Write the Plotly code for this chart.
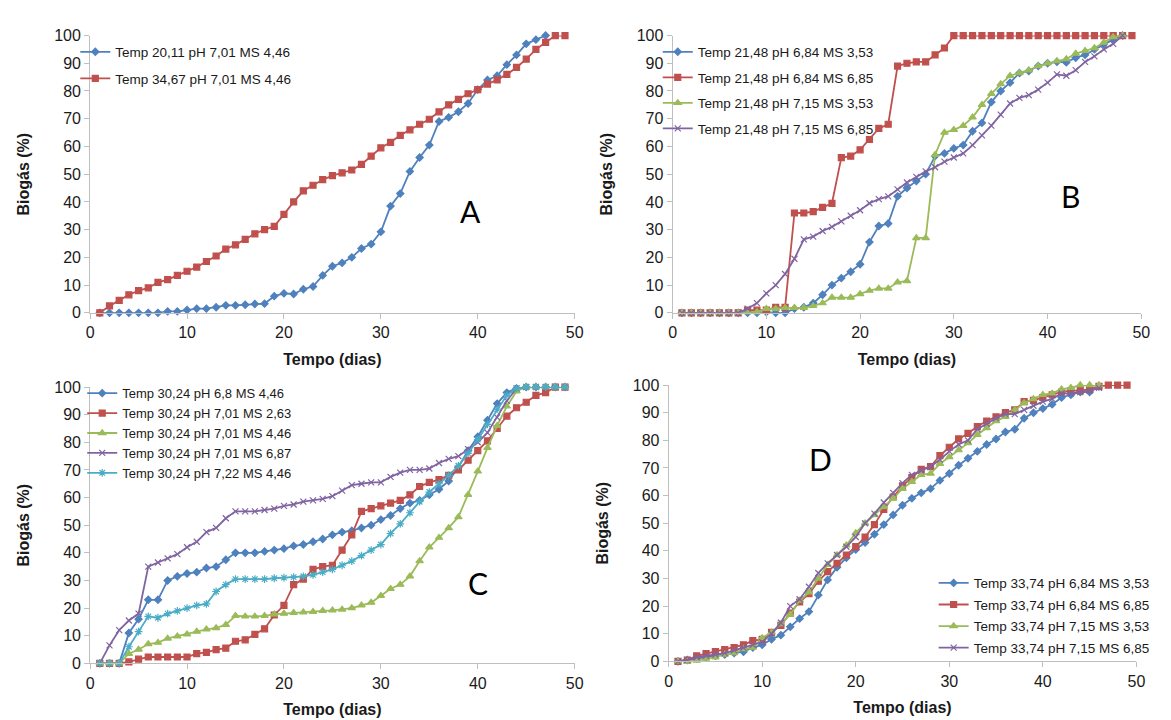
import plotly.graph_objects as go

# ---------------- data ----------------
# Panel A
a_labels = ["Temp 20,11 pH 7,01 MS 4,46", "Temp 34,67 pH 7,01 MS 4,46"]
a_s1 = [0, 0, 0, 0, 0, 0, 0, 0.5, 0.5, 1, 1.5, 1.5, 2, 2.7, 2.7, 2.9, 3.2, 3.3, 6, 7,
        6.8, 8.5, 9.5, 13.5, 16.8, 18, 20, 23.2, 24.8, 29.2, 38.5, 43, 51, 56, 60.5, 69, 70.5,
        72.5, 75.5, 80.5, 84, 85.5, 89.5, 93, 97, 98.5, 100]
a_s2 = [0, 2.5, 4.5, 6.5, 8, 9, 11, 12, 13.5, 15, 16.5, 18.5, 20.5, 23, 24.5, 26.5, 28.5,
        30, 31.2, 35.5, 40, 44, 46, 48, 49.5, 50.5, 51.5, 53.5, 56.5, 59.5, 61.5, 64, 66, 68,
        69.8, 72.5, 75, 77, 79, 80.5, 82.5, 84, 86, 88.5, 91.5, 95, 97.5, 100, 100]

# Panel B
b_labels = ["Temp 21,48 pH 6,84 MS 3,53", "Temp 21,48 pH 6,84 MS 6,85",
            "Temp 21,48 pH 7,15 MS 3,53", "Temp 21,48 pH 7,15 MS 6,85"]
b_s1 = [0, 0, 0, 0, 0, 0, 0, 0, 0, 0.3, 0, 0, 1.5, 2, 3.5, 6.5, 10, 12.5, 14.8, 17.5,
        25.5, 31.3, 32.2, 42, 45, 47.5, 50, 56.5, 57.5, 59.3, 60.5, 65.5, 68.5, 76, 80, 83,
        86.5, 87.2, 89, 90, 90.5, 90.3, 92, 93, 95, 96.8, 98.5, 100]
b_s2 = [0, 0, 0, 0, 0, 0, 0, 1, 1, 1, 2, 2, 36, 36, 36.5, 38, 39.5, 56, 56.5, 58.8,
        62.5, 66.5, 68, 89, 90, 90.5, 90.5, 93, 95.5, 100, 100, 100, 100, 100, 100, 100,
        100, 100, 100, 100, 100, 100, 100, 100, 100, 100, 100, 100, 100]
b_s3 = [0, 0, 0, 0, 0, 0, 0, 0.3, 0.3, 1.5, 1.5, 1.8, 1.8, 1.8, 2.5, 3.5, 5.5, 5.5, 5.5,
        6.8, 8, 8.8, 8.8, 11, 11.5, 27, 27, 57, 65, 66, 67.5, 70.5, 75, 79, 82.5, 85.5,
        86.5, 87.5, 89, 90, 90.8, 91.5, 93.5, 94.5, 95.5, 97.5, 99.5, 100]
b_s4 = [0, 0, 0, 0, 0, 0, 0, 1.5, 3.5, 7, 10, 14, 19.5, 26.5, 27.5, 29.5, 31, 33, 35, 37,
        39.5, 41, 42, 44.5, 47, 49, 51, 52.5, 54.5, 56, 57.5, 60.5, 64, 67.5, 71.5, 75.5,
        77.5, 78.5, 80.5, 83, 86, 85.5, 87.5, 90.5, 92.5, 95, 97, 100]

# Panel C
c_labels = ["Temp 30,24 pH 6,8 MS 4,46", "Temp 30,24 pH 7,01 MS 2,63",
            "Temp 30,24 pH 7,01 MS 4,46", "Temp 30,24 pH 7,01 MS 6,87",
            "Temp 30,24 pH 7,22 MS 4,46"]
c_s1 = [0, 0, 0, 11, 16, 23, 23, 30, 31.5, 32.5, 33, 34.5, 35, 37.5, 40, 40, 40, 40.5, 41,
        41.5, 42.5, 43, 44, 45, 46.5, 47.5, 48, 49, 50, 52, 53.5, 56, 58, 59, 61, 63, 66,
        71, 77, 82, 88, 94, 98, 99.5, 100, 100, 100, 100, 100]
c_s2 = [0, 0, 0, 0.5, 1.5, 2.3, 2.3, 2.3, 2.3, 2.3, 3.5, 4, 5, 5.5, 8, 8.5, 10.5, 12.5,
        17.5, 21, 28.5, 30.5, 34, 35, 35.5, 41, 46.5, 55, 56, 57, 58, 59, 61, 64, 65.5, 66.5,
        68, 70, 73.5, 77, 80.5, 85, 89.5, 92.5, 94.5, 97, 98, 100, 100]
c_s3 = [0, 0, 0, 3.5, 5, 7, 7.5, 9, 9.8, 10.5, 11.5, 12.3, 12.8, 14, 17.2, 17, 17, 17.2,
        17.8, 18, 18.3, 18.5, 18.7, 19, 19.2, 19.5, 20, 21, 22, 24.5, 27, 28.5, 31.5, 37, 42,
        45.5, 49, 53, 61, 69.5, 78, 86, 93, 98.5, 100, 100, 100, 100, 100]
c_s4 = [0, 6.5, 12, 15.5, 18, 35, 36.5, 38, 39.5, 42, 44, 47.5, 49, 52.5, 55, 55, 55, 55.5,
        56, 57, 57.5, 58.5, 59, 59.5, 60.5, 62.5, 64.5, 65, 65.5, 65.5, 67.5, 69, 70, 70,
        70.5, 72.5, 74, 75, 77.5, 80, 83.5, 89, 95, 99.5, 100, 100, 100, 100, 100]
c_s5 = [0, 0, 0, 6, 11.5, 17, 16.5, 18, 19, 20, 21, 21.5, 26, 28.5, 30.5, 30.5, 30.5, 30.5,
        30.8, 31, 31.2, 31.5, 32, 33, 34, 35.5, 37, 39, 41, 43, 47, 50.5, 54.5, 58.5, 62, 65,
        68, 71.5, 76, 81, 86.5, 92, 97, 99.5, 100, 100, 100, 100, 100]

# Panel D
d_labels = ["Temp 33,74 pH 6,84 MS 3,53", "Temp 33,74 pH 6,84 MS 6,85",
            "Temp 33,74 pH 7,15 MS 3,53", "Temp 33,74 pH 7,15 MS 6,85"]
d_s1 = [0, 0.5, 1, 1.5, 2, 2.5, 3, 3.5, 5, 6, 8, 9.5, 12.5, 15.5, 18, 24, 29.5, 34, 37.5,
        40.5, 43, 46, 49.5, 53, 56.5, 59, 61, 62.5, 65.5, 68, 71, 73.5, 76, 78.5, 80.5, 83,
        84, 88, 90, 91.5, 93, 95.5, 96.5, 97.5, 97.5, 99.5]
d_s2 = [0, 0.5, 2, 2.8, 3.5, 4.3, 5, 6, 7.5, 8, 10.5, 13, 17.5, 21.5, 24.5, 29, 32.5,
        35.5, 38.5, 41.5, 45, 49.5, 55, 59.5, 63.5, 66.5, 69.5, 70.5, 74.5, 77.5, 80.5, 82.5,
        85, 87, 88.5, 90, 91, 94, 94.5, 95.5, 96.5, 97.5, 98, 98, 98.5, 99.5, 100, 100, 100]
d_s3 = [0, 0, 0.3, 1, 1.5, 2.5, 3, 4.5, 5, 8.5, 10.5, 13.5, 17, 22, 25, 30, 35, 38.5, 42,
        46.5, 50, 53, 56, 59, 62.5, 65, 67.5, 68, 71.5, 74, 76.5, 79, 82, 84.5, 87, 88.5, 91,
        93.5, 95, 96.5, 97, 98.5, 99, 100, 100, 100]
d_s4 = [0, 0.5, 1.5, 2, 2.5, 3, 4, 5, 6, 7, 10, 14, 20, 22.5, 27, 32, 35.5, 38.5, 41.5,
        45, 50, 53.5, 57.5, 61, 64.5, 67.5, 69, 70.5, 73, 76, 78.5, 80, 84, 86, 88, 89.5,
        89.5, 91, 92.5, 94, 95, 97, 97, 97.5, 98, 99]

panel_letters = ["A", "B", "C", "D"]

# ---------------- styles ----------------
COLORS = ["#4F81BD", "#C0504D", "#9BBB59", "#8064A2", "#4BACC6"]
SYMBOLS = ["diamond", "square", "triangle-up", "x-thin-open", "asterisk-open"]
SIZES = [5.5, 6, 6.5, 6, 6.5]
FONT = "Liberation Sans, Arial, sans-serif"

W, H = 1171, 720


def px(x):
    return x / W


def py(y):
    return 1 - y / H


# plot-area pixel boxes (x0, x50, y100, y0)
boxes = {
    "A": (79, 569, 20, 304),
    "B": (668, 1142, 20, 304),
    "C": (79, 569, 380, 663),
    "D": (664, 1137, 378, 661),
}

panels = [
    ("A", a_labels, [a_s1, a_s2], "legend", (64, 21, 6), 13.5),
    ("B", b_labels, [b_s1, b_s2, b_s3, b_s4], "legend2", (653, 21, 5), 13.5),
    ("C", c_labels, [c_s1, c_s2, c_s3, c_s4, c_s5], "legend3", (71, 371, 0), 13),
    ("D", d_labels, [d_s1, d_s2, d_s3, d_s4], "legend4", (932, 565, 1), 13.5),
]

fig = go.Figure()
layout = dict(
    width=W, height=H, margin=dict(l=0, r=0, t=0, b=0),
    paper_bgcolor="white", plot_bgcolor="white",
    font=dict(family=FONT, color="#1a1a1a"),
    showlegend=True, annotations=[],
)

for i, (name, labels, series, legname, (lx, ly, gap), lfs) in enumerate(panels):
    xa = "x" if i == 0 else f"x{i+1}"
    ya = "y" if i == 0 else f"y{i+1}"
    for j, (lab, vals) in enumerate(zip(labels, series)):
        fig.add_trace(go.Scatter(
            x=list(range(1, len(vals) + 1)), y=vals, name=lab,
            mode="lines+markers", xaxis=xa, yaxis=ya,
            line=dict(color=COLORS[j], width=1.8),
            marker=dict(symbol=SYMBOLS[j], size=SIZES[j], color=COLORS[j],
                        line=dict(color=COLORS[j], width=1.2)),
            cliponaxis=False, legend=legname, legendgroup=f"{name}{j}",
        ))
    x0, x50, y100, y0 = boxes[name]
    xkey = "xaxis" if i == 0 else f"xaxis{i+1}"
    ykey = "yaxis" if i == 0 else f"yaxis{i+1}"
    axis_common = dict(
        showline=True, linecolor="#BFBFBF", linewidth=1, ticks="outside",
        ticklen=5, tickcolor="#BFBFBF", showgrid=False, zeroline=False,
        tickfont=dict(size=16, family=FONT, color="#1a1a1a"),
        fixedrange=True,
    )
    layout[xkey] = dict(axis_common, domain=[px(x0), px(x50)], range=[0, 50],
                        dtick=10, anchor=ya,
                        title=dict(text="<b>Tempo (dias)</b>", standoff=13,
                                   font=dict(size=16, family=FONT, color="#1a1a1a")))
    layout[ykey] = dict(axis_common, domain=[py(y0), py(y100)], range=[0, 100],
                        dtick=10, anchor=xa,
                        title=dict(text="<b>Biogás (%)</b>", standoff=20,
                                   font=dict(size=16, family=FONT, color="#1a1a1a")))
    layout[legname] = dict(
        x=px(lx), y=py(ly), xanchor="left", yanchor="top",
        bgcolor="rgba(0,0,0,0)", font=dict(size=lfs, family=FONT, color="#1a1a1a"),
        traceorder="grouped", tracegroupgap=gap, itemclick=False,
    )

letter_pos = {"A": (39.3, 36.7), "B": (42.4, 42), "C": (40, 29), "D": (16.2, 73.3)}
for i, name in enumerate(panel_letters):
    xa = "x" if i == 0 else f"x{i+1}"
    ya = "y" if i == 0 else f"y{i+1}"
    lx, ly = letter_pos[name]
    layout["annotations"].append(dict(
        x=lx, y=ly, xref=xa, yref=ya, text=name, showarrow=False,
        font=dict(size=30, family="Lato, Open Sans, sans-serif", color="#000000"),
    ))

fig.update_layout(**layout)
fig.write_html("out.html")
